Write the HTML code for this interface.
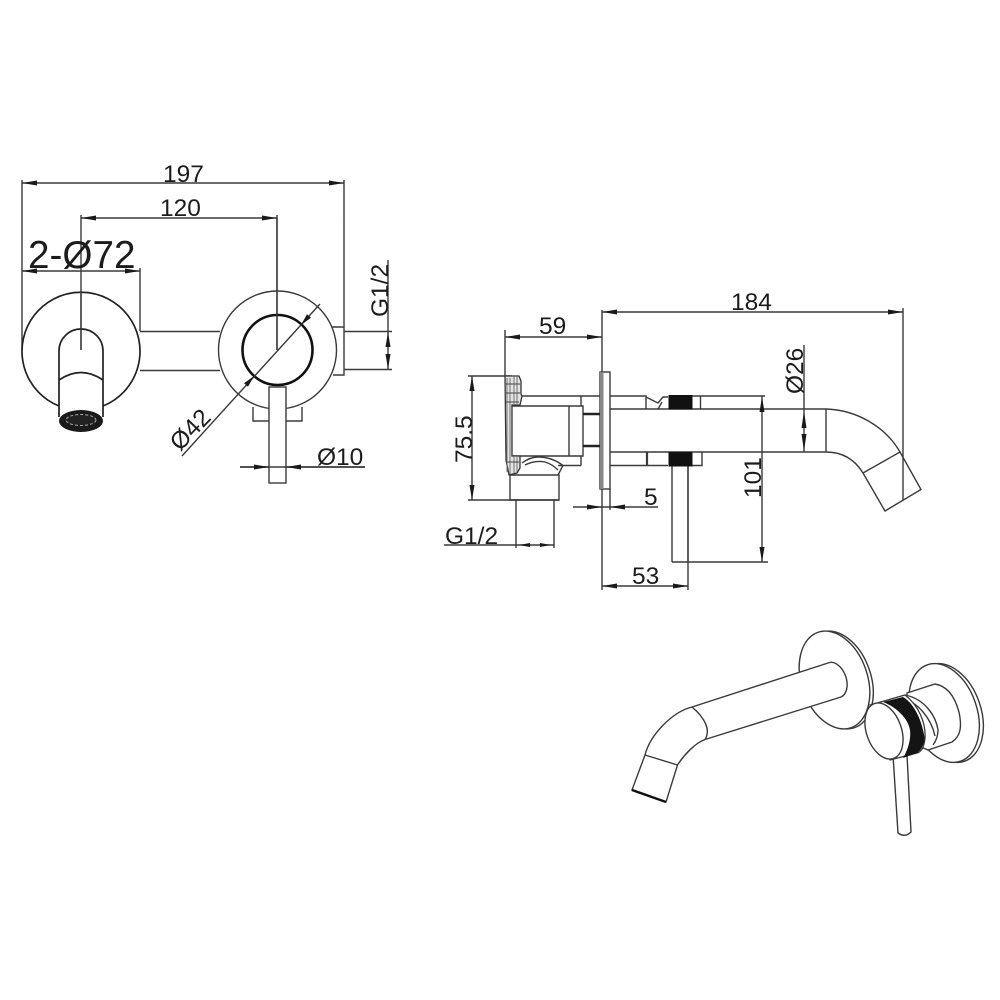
<!DOCTYPE html>
<html><head><meta charset="utf-8"><style>
html,body{margin:0;padding:0;background:#fff}
svg{display:block}
text{font-family:"Liberation Sans",sans-serif;font-size:24.5px;fill:#1c1c1c}
.l{fill:none;stroke:#3a3a3a;stroke-width:1.4}
.t{fill:none;stroke:#222;stroke-width:1.7}
.a{fill:#1a1a1a;stroke:none}
</style></head><body>
<svg width="1000" height="1000" viewBox="0 0 1000 1000" xmlns="http://www.w3.org/2000/svg">
<rect width="1000" height="1000" fill="#fff"/>

<!-- FRONT VIEW -->
<g class="l">
<path d="M22 180V350M344 180V327M22 183H344M81 215V350M81 218H277M277 215V350M22 271H140M140 268V331"/>
<path d="M140 331.5H220M140 370.5H220"/>
<circle cx="277.5" cy="350" r="59"/>
<path d="M332 327H344V375H333M344 331.5H392M344 369.5H392M388 260V369.5"/>
<path d="M253 407V421H269M286 421H302V407"/>
<path d="M240 467H365"/>
</g>
<path class="t" d="M59 406A59 59 0 1 1 103 406" fill="#fff"/>
<path class="t" d="M59 417V351A22 22 0 0 1 103 351V417M59 380Q81 365 103 380"/>
<path class="l" d="M81 292V350"/>
<ellipse cx="81" cy="421" rx="22" ry="11" fill="#1a1a1a"/>
<ellipse cx="81" cy="420" rx="15" ry="5.5" fill="#222" stroke="#aaa" stroke-width="1" stroke-dasharray="3 2"/>
<circle cx="277.5" cy="350" r="35" fill="none" stroke="#111" stroke-width="2.6"/>
<path class="l" d="M320 304L182 456M277 218V350"/>
<rect x="269" y="387" width="17" height="96" fill="#fff" stroke="#3a3a3a" stroke-width="1.4"/>
<path class="l" d="M240 467H365"/>

<g class="a">
<polygon points="22,183 37,180.5 37,185.5"/>
<polygon points="344,183 329,180.5 329,185.5"/>
<polygon points="81,218 96,215.5 96,220.5"/>
<polygon points="277,218 262,215.5 262,220.5"/>
<polygon points="22,271 37,268.5 37,273.5"/>
<polygon points="140,271 125,268.5 125,273.5"/>
<polygon points="388,332 385.5,347 390.5,347"/>
<polygon points="388,369 385.5,354 390.5,354"/>
<polygon points="269,467 254,464.5 254,469.5"/>
<polygon points="286,467 301,464.5 301,469.5"/>
<polygon points="301,325 307,314.3 311,317.7"/>
<polygon points="254,376 244,383.3 248,386.7"/>
</g>

<text x="163" y="182">197</text>
<text x="160" y="216">120</text>
<text x="28" y="268" style="font-size:38.7px">2-Ø72</text>
<text x="317" y="465">Ø10</text>
<text transform="translate(180,452) rotate(-46)">Ø42</text>
<text transform="translate(388,317) rotate(-90)">G1/2</text>

<!-- SIDE VIEW -->
<g class="l">
<path d="M505 330V376M602 310V372M602 489V590M505 337H602M602 312H903M903 308V500"/>
<path d="M468 376H512M468 500H559M472 376V500"/>
<path d="M444 545H554M516 500V548M554 500V548"/>
<path d="M573 507H658M610 489V510"/>
<path d="M602 586H688M688 466V590"/>
<path d="M692 396H765M672 562H768M762 396V562"/>
<path d="M804 345V452"/>
<path d="M521 396H600M581 396V406M581 456V465.5"/>
<path d="M512 406H569V456H512M569 406H583V456H569"/>
<path d="M510 475V500H559V475H510"/>
<path d="M522 463Q530 457 538 457Q552 457 563 465.5L558 475M525 465Q535 460 545 462Q552 464 558 470M558 465.5H581"/>
<path d="M610 396H646V409M610 465.5H668M610 409H826M610 452H826"/>
<path d="M646 397L658 403L663 397H668M662 402L658 409"/>
<path d="M647 452V465.5" stroke-width="2.2"/>
<path d="M700.5 396V409M692 465.5H702V452"/>
<path d="M826 409V452M826 409C856 410 885 426 900 452M826 452C843 452 855 460 863 473M863 473L900 452L921 489.5L885 511L863 473"/>
<path d="M672 466V562M688 466V562"/>
</g>
<rect x="600" y="372" width="10" height="117" fill="#fff" stroke="#3a3a3a" stroke-width="1.4"/>
<rect x="600" y="372" width="3.5" height="117" fill="#888"/>
<path d="M583 414H600M583 446H600" stroke="#222" stroke-width="2.4" fill="none"/>
<path d="M505 376H519L521 381V394L522 396L520 405H512V456H520V468L517 473L509 475L506 460Z" fill="#e4e4e4" stroke="#333" stroke-width="1.3"/>
<path d="M507 378V472M510 378V474M514 377V404M517 377V404M514 457V473M517 457V472" stroke="#666" stroke-width="0.9" fill="none"/>
<path d="M506 384H520M506 393H520M506 402H519M506 462H519" stroke="#444" stroke-width="1" fill="none"/>
<rect x="668.5" y="395" width="24" height="14.5" fill="#111"/>
<rect x="668.5" y="452" width="24" height="14.5" fill="#111"/>

<g class="a">
<polygon points="505,337 520,334.5 520,339.5"/>
<polygon points="602,337 587,334.5 587,339.5"/>
<polygon points="602,312 617,309.5 617,314.5"/>
<polygon points="903,312 888,309.5 888,314.5"/>
<polygon points="472,376 469.5,391 474.5,391"/>
<polygon points="472,500 469.5,485 474.5,485"/>
<polygon points="519,545 530,543 530,547"/>
<polygon points="551,545 540,543 540,547"/>
<polygon points="602,507 587,504.5 587,509.5"/>
<polygon points="610,507 625,504.5 625,509.5"/>
<polygon points="602,586 617,583.5 617,588.5"/>
<polygon points="688,586 673,583.5 673,588.5"/>
<polygon points="762,397 759.5,412 764.5,412"/>
<polygon points="762,562 759.5,547 764.5,547"/>
<polygon points="804,411 801.5,428 806.5,428"/>
<polygon points="804,451 801.5,434 806.5,434"/>
</g>

<text x="539" y="334">59</text>
<text x="731" y="310">184</text>
<text x="445" y="544">G1/2</text>
<text x="644" y="505">5</text>
<text x="632" y="584">53</text>
<text transform="translate(472,463) rotate(-90)">75.5</text>
<text transform="translate(761,498) rotate(-90)">101</text>
<text transform="translate(803,394) rotate(-90)">Ø26</text>

<!-- PERSPECTIVE VIEW -->
<g class="l">
<ellipse cx="838" cy="680" rx="33" ry="50.5" transform="rotate(-19 838 680)" fill="#fff"/>
<ellipse cx="834.5" cy="680" rx="33" ry="50.5" transform="rotate(-19 834.5 680)" fill="#fff"/>
<path d="M692 707L828 663A11 17 -19 0 1 841 697L705 739.5C695 743 684 755 677.5 765L666 802L632 790L645 755C650 735 672 712 692 707Z" fill="#fff"/>
<path d="M692 707C705 718 711 730 705 739.5M645 755L677.5 765"/>
<path d="M632 790L666 802" stroke="#111" stroke-width="2.4"/>

<ellipse cx="948" cy="713" rx="33" ry="51" transform="rotate(-19 948 713)" fill="#fff"/>
<ellipse cx="944" cy="713" rx="33" ry="51" transform="rotate(-19 944 713)" fill="#fff"/>
<path d="M907 693L935 684C946 686 954 694 959 712C962 726 961 736 952 742L928 750L905 740Z" fill="#fff"/>
<path d="M905 695C925 699 936 716 938 730C938 736 936 741 933 745M900 697C918 702 931 718 935 736"/>
</g>
<path class="l" d="M893 755L898 833Q905 838 911 832L907 755" fill="#fff"/>
<path d="M870 705L905 695C918 705 926 722 925 738C924 748 921 752 917 753L890 760Z" fill="#fff" stroke="#3a3a3a" stroke-width="1.3"/>
<path d="M883 702L903 697C912 702 921 716 924.5 737C924.5 745 921 750 917 753L903 758C909 748 911 737 910 730C908 718 896 707 883 702Z" fill="#141414"/>
<ellipse cx="884" cy="731" rx="17.5" ry="29" transform="rotate(-19 884 731)" fill="#fff" stroke="#3a3a3a" stroke-width="1.4"/>
</svg>
</body></html>
